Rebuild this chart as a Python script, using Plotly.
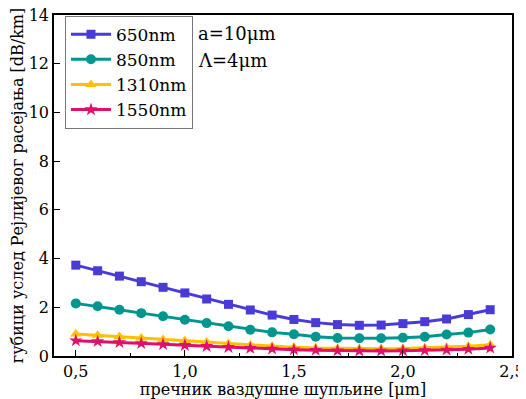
import plotly.graph_objects as go

x = [0.5, 0.6, 0.7, 0.8, 0.9, 1.0, 1.1, 1.2, 1.3, 1.4, 1.5, 1.6, 1.7, 1.8, 1.9, 2.0, 2.1, 2.2, 2.3, 2.4]
y650 = [3.73, 3.50, 3.28, 3.05, 2.82, 2.59, 2.34, 2.12, 1.89, 1.68, 1.50, 1.37, 1.29, 1.26, 1.27, 1.33, 1.41, 1.52, 1.70, 1.90]
y850 = [2.16, 2.04, 1.90, 1.76, 1.63, 1.49, 1.35, 1.22, 1.08, 0.97, 0.89, 0.79, 0.74, 0.73, 0.73, 0.75, 0.79, 0.88, 0.96, 1.09]
y1310 = [0.90, 0.85, 0.80, 0.74, 0.68, 0.63, 0.57, 0.51, 0.45, 0.40, 0.36, 0.33, 0.31, 0.30, 0.30, 0.31, 0.33, 0.36, 0.40, 0.46]
y1550 = [0.63, 0.60, 0.56, 0.52, 0.48, 0.44, 0.40, 0.36, 0.32, 0.29, 0.26, 0.24, 0.22, 0.21, 0.21, 0.22, 0.23, 0.25, 0.28, 0.33]

names = ["650nm", "850nm", "1310nm", "1550nm"]
colors = ["#4a3bd8", "#00968f", "#ffc000", "#e0106a"]
symbols = ["square", "circle", "triangle-up", "star"]
sizes = [9, 10, 10, 10]
series = [y650, y850, y1310, y1550]

FONT = "DejaVu Serif"

fig = go.Figure()
for n, c, s, sz, yy in zip(names, colors, symbols, sizes, series):
    fig.add_trace(go.Scatter(
        x=x, y=yy, name=n, mode="lines+markers",
        line=dict(color=c, width=3),
        marker=dict(symbol=s, size=sz, color=c),
    ))

fig.add_annotation(x=0.31, y=0.947, xref="paper", yref="paper", text="a=10μm",
                   showarrow=False, xanchor="left", yanchor="middle",
                   font=dict(family=FONT, size=18, color="black"))
fig.add_annotation(x=0.31, y=0.868, xref="paper", yref="paper", text="Λ=4μm",
                   showarrow=False, xanchor="left", yanchor="middle",
                   font=dict(family=FONT, size=18, color="black"))

# page body adds an 8px offset; figure sized to fill the remaining window
fig.update_layout(
    width=518, height=391,
    margin=dict(l=46, r=14, t=7, b=43, autoexpand=False),
    paper_bgcolor="white", plot_bgcolor="white",
    separators=",.",
    font=dict(family=FONT, color="black"),
    showlegend=True,
    legend=dict(x=0.024, y=0.998, xanchor="left", yanchor="top",
                bgcolor="white", bordercolor="#777777", borderwidth=1,
                font=dict(family=FONT, size=17, color="black"),
                itemwidth=40, tracegroupgap=0),
    xaxis=dict(range=[0.4, 2.5], dtick=0.5, tick0=0.5, tickformat=".1f",
               automargin=False, ticklabeloverflow="allow",
               showline=True, linecolor="black", linewidth=1.5, mirror=True,
               ticks="inside", ticklen=6, tickcolor="black", tickwidth=1.2,
               minor=dict(dtick=0.25, tick0=0.5, ticks="inside", ticklen=3, tickcolor="black"),
               showgrid=False, zeroline=False,
               tickfont=dict(family=FONT, size=16, color="black"),
               title=dict(text="пречник ваздушне шупљине [μm]", standoff=0,
                          font=dict(family=FONT, size=16, color="black"))),
    yaxis=dict(range=[0, 14], dtick=2,
               automargin=False, ticklabeloverflow="allow",
               showline=True, linecolor="black", linewidth=1.5, mirror=True,
               ticks="inside", ticklen=6, tickcolor="black", tickwidth=1.2,
               showgrid=False, zeroline=False,
               tickfont=dict(family=FONT, size=16, color="black"),
               title=dict(text="губици услед Рејлијевог расејања [dB/km]", standoff=4,
                          font=dict(family=FONT, size=16, color="black"))),
)

fig.write_html("out.html")
